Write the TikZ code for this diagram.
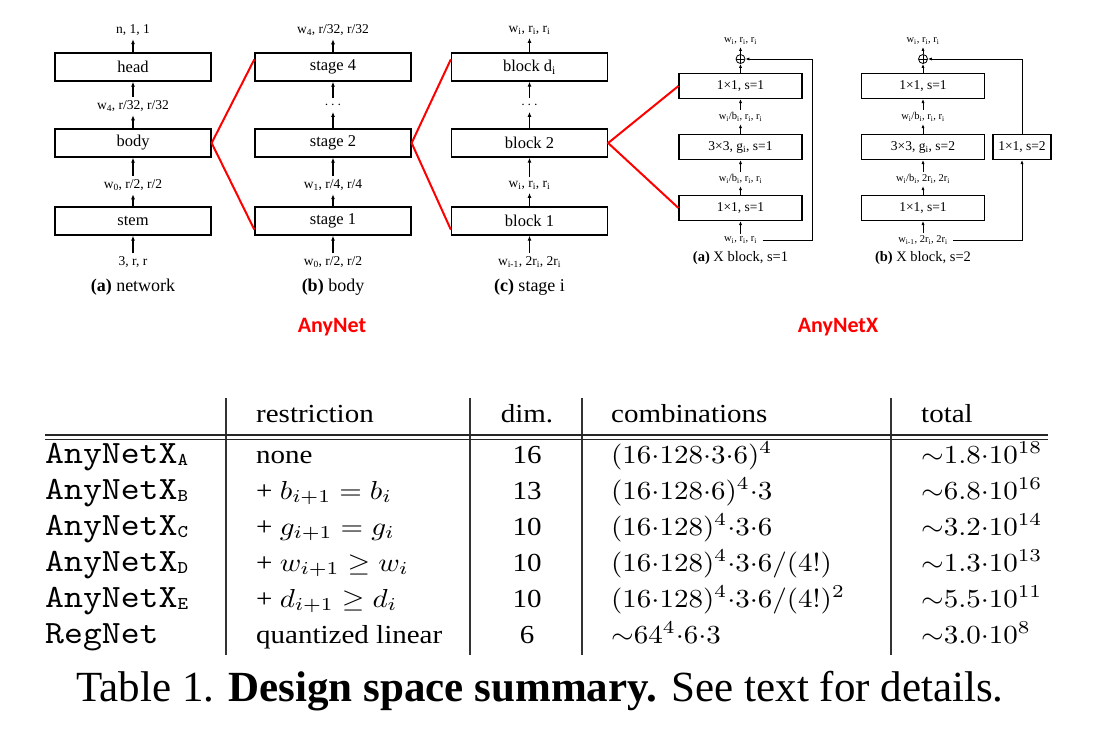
\documentclass[tikz,border=0pt]{standalone}
\usepackage[no-math]{fontspec}
\setmainfont{Liberation Serif}
\newfontfamily\calfont{Carlito}
\usepackage{graphicx}
\usetikzlibrary{arrows.meta}
\newcommand\tb[1]{\scalebox{2.9}[2.6]{\fontsize{10}{12}\selectfont #1}}
\newcommand\anx[1]{\scalebox{3.6}[3.25]{\fontsize{10}{12}\selectfont\ttfamily AnyNetX\raisebox{-0.8pt}{\fontsize{5.5}{6}\selectfont #1}}}
\newcommand\rgn{\scalebox{3.6}[3.25]{\fontsize{10}{12}\selectfont\ttfamily RegNet}}
\newcommand\sbi[1]{\textsubscript{#1}}
\begin{document}
\begin{tikzpicture}[x=1pt,y=-1pt,
 bx/.style={draw, line width=1.3pt, minimum width=156pt, minimum height=28pt, inner sep=0pt, font=\fontsize{16.5}{17}\selectfont},
 lb/.style={inner sep=3.5pt, font=\fontsize{13.5}{14}\selectfont},
 cp/.style={font=\fontsize{18}{20}\selectfont},
 ar/.style={-{Latex[length=5pt,width=4pt]}, line width=1.1pt},
 xbx/.style={draw, line width=1.1pt, minimum width=123pt, minimum height=25pt, inner sep=0pt, font=\fontsize{13.5}{14}\selectfont},
 xlb/.style={inner sep=2.5pt, font=\fontsize{10.5}{11}\selectfont},
 xcp/.style={font=\fontsize{14.5}{16}\selectfont},
 xar/.style={-{Latex[length=4pt,width=3.2pt]}, line width=0.9pt},
 rl/.style={draw=red, line width=2pt},
 pl/.style={circle, draw, line width=0.8pt, inner sep=0pt, minimum size=9pt,
   path picture={\draw[line width=0.8pt] (path picture bounding box.north) -- (path picture bounding box.south) (path picture bounding box.west) -- (path picture bounding box.east);}},
 tl/.style={line width=1.2pt, draw=black!80},
 tw/.style={anchor=base west, inner sep=0pt},
 tc/.style={anchor=base, inner sep=0pt},
]
\useasboundingbox (0,0) rectangle (1096,729);

% ---------- (a) network ----------
\node[lb] (a0) at (133,30) {n, 1, 1};
\node[bx] (ah) at (133,67) {head};
\node[lb] (a1) at (133,106) {w\sbi{4}, r/32, r/32};
\node[bx] (ab) at (133,143) {body};
\node[lb] (a2) at (133,185) {w\sbi{0}, r/2, r/2};
\node[bx] (as) at (133,221) {stem};
\node[lb] (a3) at (133,262) {3, r, r};
\node[cp] (acap) at (133,287) {\textbf{(a)} network};
\draw[ar] (a3) -- (as);
\draw[ar] (as) -- (a2);
\draw[ar] (a2) -- (ab);
\draw[ar] (ab) -- (a1);
\draw[ar] (a1) -- (ah);
\draw[ar] (ah) -- (a0);

% ---------- (b) body ----------
\node[lb] (b0) at (333,30) {w\sbi{4}, r/32, r/32};
\node[bx] (bs4) at (333,67) {stage 4};
\node[lb] (bd) at (333,105) {$\cdots$};
\node[bx] (bs2) at (333,143) {stage 2};
\node[lb] (b1) at (333,185) {w\sbi{1}, r/4, r/4};
\node[bx] (bs1) at (333,221) {stage 1};
\node[lb] (b2) at (333,262) {w\sbi{0}, r/2, r/2};
\node[cp] (bcap) at (333,287) {\textbf{(b)} body};
\draw[ar] (b2) -- (bs1);
\draw[ar] (bs1) -- (b1);
\draw[ar] (b1) -- (bs2);
\draw[ar] (bs2) -- (bd);
\draw[ar] (bd) -- (bs4);
\draw[ar] (bs4) -- (b0);

% ---------- (c) stage i ----------
\node[lb] (c0) at (529.5,30) {w\sbi{i}, r\sbi{i}, r\sbi{i}};
\node[bx] (cbd) at (529.5,67) {block d\sbi{i}};
\node[lb] (cd) at (529.5,105) {$\cdots$};
\node[bx] (cb2) at (529.5,143) {block 2};
\node[lb] (c1) at (529.5,185) {w\sbi{i}, r\sbi{i}, r\sbi{i}};
\node[bx] (cb1) at (529.5,221) {block 1};
\node[lb] (c2) at (529.5,262) {w\sbi{i-1}, 2r\sbi{i}, 2r\sbi{i}};
\node[cp] (ccap) at (529.5,287) {\textbf{(c)} stage i};
\draw[ar] (c2) -- (cb1);
\draw[ar] (cb1) -- (c1);
\draw[ar] (c1) -- (cb2);
\draw[ar] (cb2) -- (cd);
\draw[ar] (cd) -- (cbd);
\draw[ar] (cbd) -- (c0);

% ---------- X block, s=1 ----------
\node[xlb] (xat) at (740.5,41) {w\sbi{i}, r\sbi{i}, r\sbi{i}};
\node[pl] (xap) at (740.5,59) {};
\node[xbx] (xa3) at (740.5,86) {1×1, s=1};
\node[xlb] (xal2) at (740.5,117) {w\sbi{i}/b\sbi{i}, r\sbi{i}, r\sbi{i}};
\node[xbx] (xa2) at (740.5,147) {3×3, g\sbi{i}, s=1};
\node[xlb] (xal1) at (740.5,179) {w\sbi{i}/b\sbi{i}, r\sbi{i}, r\sbi{i}};
\node[xbx] (xa1) at (740.5,208) {1×1, s=1};
\node[xlb] (xain) at (740.5,240) {w\sbi{i}, r\sbi{i}, r\sbi{i}};
\node[xcp] (xacap) at (740.5,258) {\textbf{(a)} X block, s=1};
\draw[xar] (xain) -- (xa1);
\draw[xar] (xa1) -- (xal1);
\draw[xar] (xal1) -- (xa2);
\draw[xar] (xa2) -- (xal2);
\draw[xar] (xal2) -- (xa3);
\draw[xar] (xa3) -- (xap);
\draw[xar] (xap) -- (xat);
\coordinate (xak) at (812,59);
\draw[xar] ([xshift=3pt]xain.east) -| (xak) -- (xap.east);

% ---------- X block, s=2 ----------
\node[xlb] (xbt) at (923,41) {w\sbi{i}, r\sbi{i}, r\sbi{i}};
\node[pl] (xbp) at (923,59) {};
\node[xbx] (xb3) at (923,86) {1×1, s=1};
\node[xlb] (xbl2) at (923,117) {w\sbi{i}/b\sbi{i}, r\sbi{i}, r\sbi{i}};
\node[xbx] (xb2) at (923,147) {3×3, g\sbi{i}, s=2};
\node[xlb] (xbl1) at (923,179) {w\sbi{i}/b\sbi{i}, 2r\sbi{i}, 2r\sbi{i}};
\node[xbx] (xb1) at (923,208) {1×1, s=1};
\node[xlb] (xbin) at (923,240) {w\sbi{i-1}, 2r\sbi{i}, 2r\sbi{i}};
\node[xcp] (xbcap) at (923,258) {\textbf{(b)} X block, s=2};
\node[xbx, minimum width=58pt] (xbs) at (1022,147) {1×1, s=2};
\draw[xar] (xbin) -- (xb1);
\draw[xar] (xb1) -- (xbl1);
\draw[xar] (xbl1) -- (xb2);
\draw[xar] (xb2) -- (xbl2);
\draw[xar] (xbl2) -- (xb3);
\draw[xar] (xb3) -- (xbp);
\draw[xar] (xbp) -- (xbt);
\draw[xar] ([xshift=3pt]xbin.east) -| (xbs.south);
\coordinate (xbk) at (1022,59);
\draw[xar] (xbs.north) -- (xbk) -- (xbp.east);

% ---------- red zoom lines ----------
\draw[rl] ([yshift=-7pt]bs4.north west) -- (ab.east) -- ([yshift=6pt]bs1.south west);
\draw[rl] ([yshift=-7pt]cbd.north west) -- (bs2.east) -- ([yshift=6pt]cb1.south west);
\draw[rl] (xa3.west) -- (cb2.east) -- (xa1.west);

% ---------- red titles ----------
\node[font=\fontsize{22}{24}\selectfont\calfont\bfseries, text=red] (lan) at (332,327) {AnyNet};
\node[font=\fontsize{22}{24}\selectfont\calfont\bfseries, text=red] (lanx) at (838,327) {AnyNetX};

% ---------- table ----------
\draw[tl] (226,398) -- (226,655);
\draw[tl] (470,398) -- (470,655);
\draw[tl] (582,398) -- (582,655);
\draw[tl] (891,398) -- (891,655);
\draw[line width=2.4pt, draw=black!85] (45,435) -- (1048,435);
\draw[line width=1.2pt, draw=black!85] (45,439.5) -- (1048,439.5);

\node[tw] (h1) at (256,422) {\tb{restriction}};
\node[tc] (h2) at (527,422) {\tb{dim.}};
\node[tw] (h3) at (611,422) {\tb{combinations}};
\node[tw] (h4) at (921,422) {\tb{total}};

\node[tw] (r1a) at (45,463) {\anx{A}};
\node[tw] (r1b) at (256,463) {\tb{none}};
\node[tc] (r1c) at (527,463) {\tb{16}};
\node[tw] (r1d) at (611,463) {\tb{$(16{\cdot}128{\cdot}3{\cdot}6)^4$}};
\node[tw] (r1e) at (921,463) {\tb{${\sim}1.8{\cdot}10^{18}$}};

\node[tw] (r2a) at (45,499) {\anx{B}};
\node[tw] (r2b) at (256,499) {\tb{+ $b_{i+1} = b_i$}};
\node[tc] (r2c) at (527,499) {\tb{13}};
\node[tw] (r2d) at (611,499) {\tb{$(16{\cdot}128{\cdot}6)^4{\cdot}3$}};
\node[tw] (r2e) at (921,499) {\tb{${\sim}6.8{\cdot}10^{16}$}};

\node[tw] (r3a) at (45,535) {\anx{C}};
\node[tw] (r3b) at (256,535) {\tb{+ $g_{i+1} = g_i$}};
\node[tc] (r3c) at (527,535) {\tb{10}};
\node[tw] (r3d) at (611,535) {\tb{$(16{\cdot}128)^4{\cdot}3{\cdot}6$}};
\node[tw] (r3e) at (921,535) {\tb{${\sim}3.2{\cdot}10^{14}$}};

\node[tw] (r4a) at (45,571) {\anx{D}};
\node[tw] (r4b) at (256,571) {\tb{+ $w_{i+1} \geq w_i$}};
\node[tc] (r4c) at (527,571) {\tb{10}};
\node[tw] (r4d) at (611,571) {\tb{$(16{\cdot}128)^4{\cdot}3{\cdot}6/(4!)$}};
\node[tw] (r4e) at (921,571) {\tb{${\sim}1.3{\cdot}10^{13}$}};

\node[tw] (r5a) at (45,607) {\anx{E}};
\node[tw] (r5b) at (256,607) {\tb{+ $d_{i+1} \geq d_i$}};
\node[tc] (r5c) at (527,607) {\tb{10}};
\node[tw] (r5d) at (611,607) {\tb{$(16{\cdot}128)^4{\cdot}3{\cdot}6/(4!)^2$}};
\node[tw] (r5e) at (921,607) {\tb{${\sim}5.5{\cdot}10^{11}$}};

\node[tw] (r6a) at (45,643) {\rgn};
\node[tw] (r6b) at (256,643) {\tb{quantized linear}};
\node[tc] (r6c) at (527,643) {\tb{6}};
\node[tw] (r6d) at (611,643) {\tb{${\sim}64^4{\cdot}6{\cdot}3$}};
\node[tw] (r6e) at (921,643) {\tb{${\sim}3.0{\cdot}10^{8}$}};

\node[tc, font=\fontsize{43}{46}\selectfont] (cap) at (540,701) {Table 1. \textbf{Design space summary.} See text for details.};
\end{tikzpicture}
\end{document}
